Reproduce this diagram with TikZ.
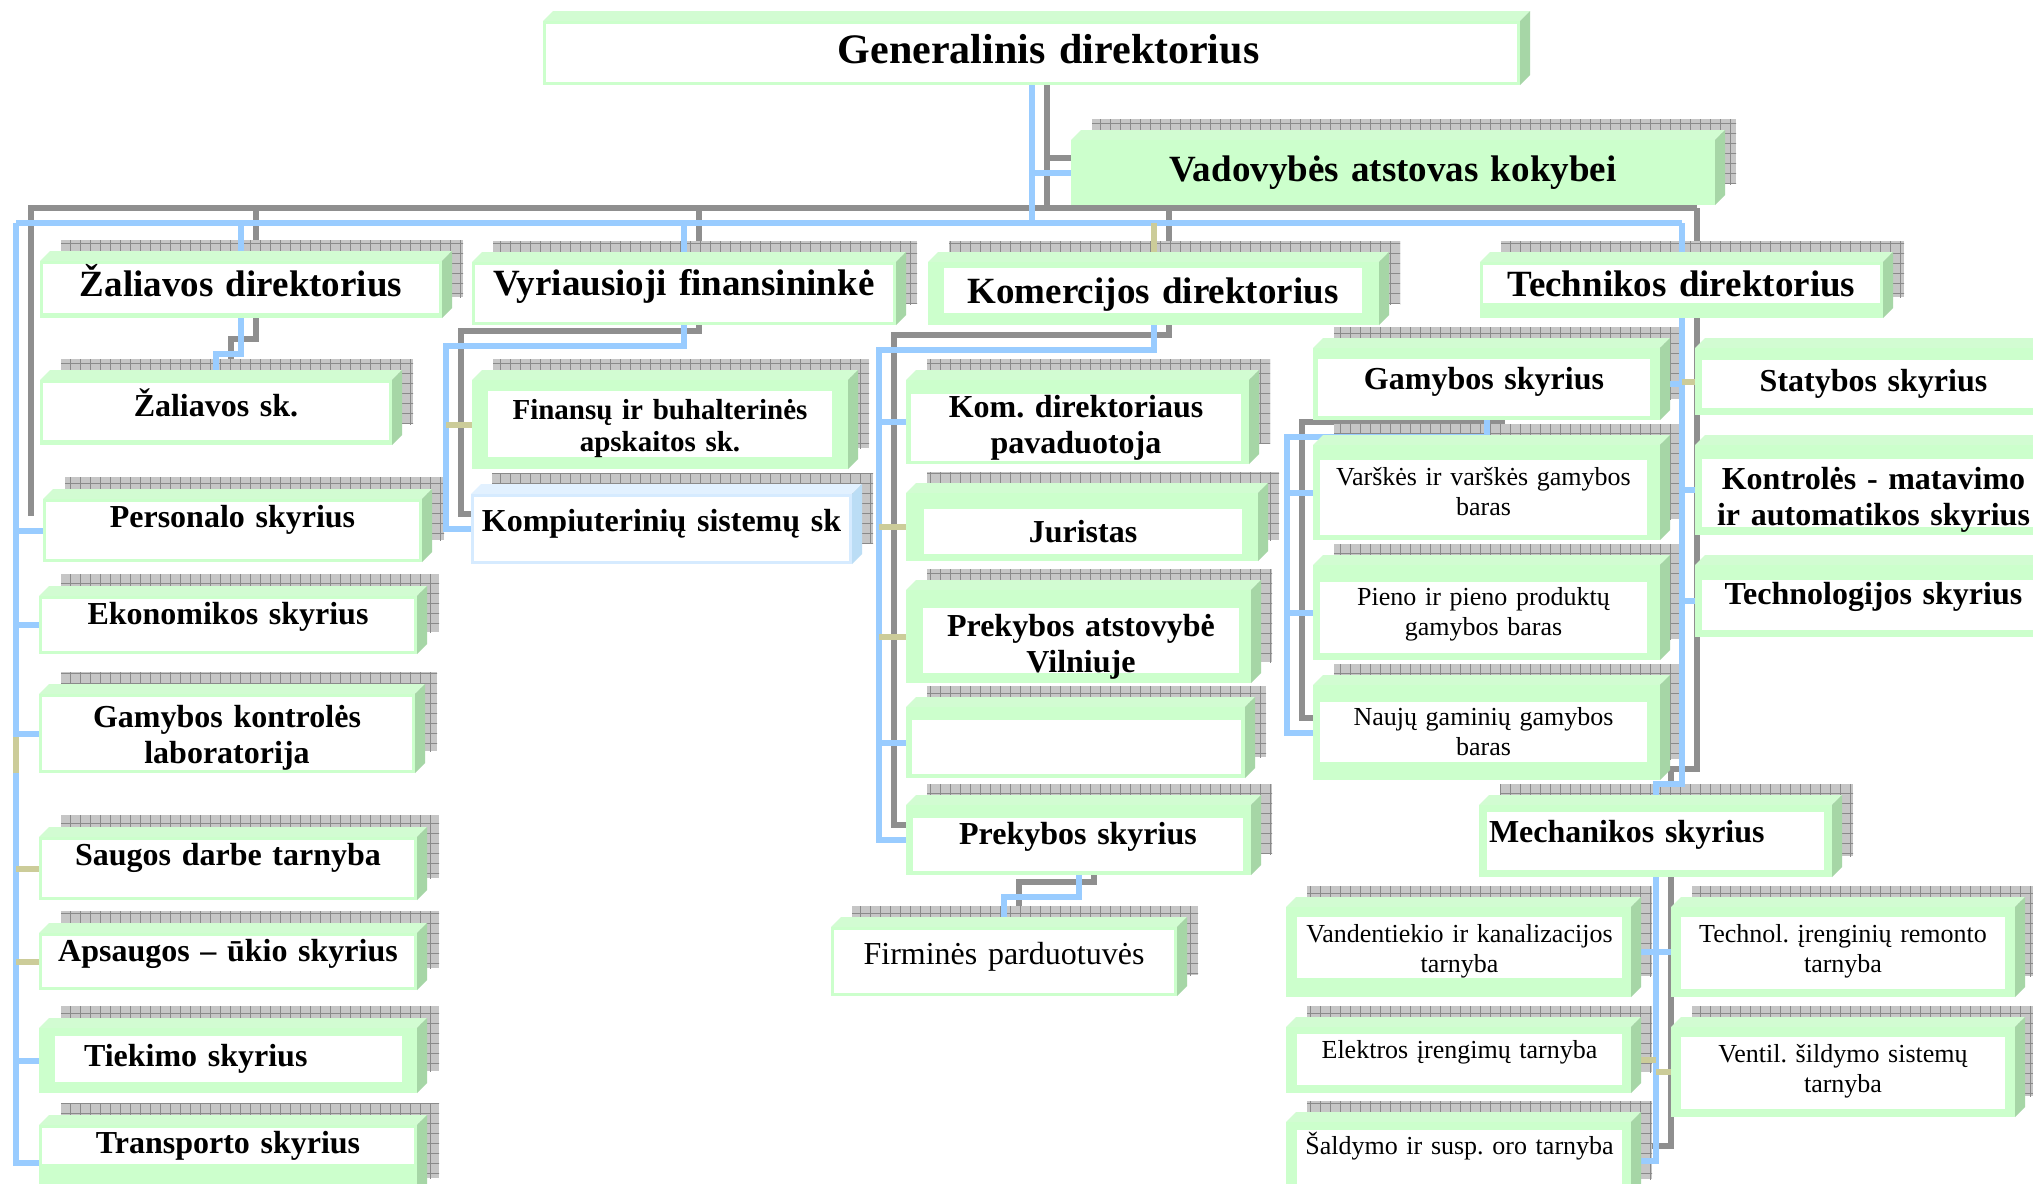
\documentclass[tikz,border=0pt]{standalone}
\usepackage{fontspec}
\setmainfont{Liberation Serif}
\frenchspacing
\usetikzlibrary{patterns.meta}
\definecolor{frameg}{HTML}{CCFFCC}
\definecolor{bvtopc}{HTML}{D2FCD2}
\definecolor{bvrightc}{HTML}{A6D6A6}
\definecolor{obinner}{HTML}{FFFFFF}
\definecolor{cblue}{HTML}{99CCFF}
\definecolor{colive}{HTML}{CCCC99}
\definecolor{cgray}{HTML}{8F8F8F}
\definecolor{shfill}{HTML}{C6C6C6}
\definecolor{shline}{HTML}{8A8A8A}
\pgfdeclarelayer{bgl}\pgfdeclarelayer{cshadow}\pgfdeclarelayer{bshadow}\pgfdeclarelayer{conn}
\pgfsetlayers{bgl,cshadow,bshadow,conn,main}
\newif\ifobshadow \obshadowtrue
\def\obparse#1/#2/#3/#4/#5\relax{\def\obl{#1}\def\obt{#2}\def\obr{#3}\def\obb{#4}\def\obdy{#5}}
\def\obshx{21}\def\obshy{21}\def\obd{10}\def\obalign{center}\def\obdx{0}
\newcommand\fA{\fontsize{42}{46}\selectfont\bfseries}
\newcommand\fB{\fontsize{37}{41}\selectfont\bfseries}
\newcommand\fC{\fontsize{32}{36}\selectfont\bfseries}
\newcommand\fD{\fontsize{29}{32}\selectfont\bfseries}
\newcommand\fR{\fontsize{26}{30}\selectfont}
\newcommand\fE{\fontsize{32}{36}\selectfont}
% #1 font, #2 name, #3 x1, #4 y1, #5 x2, #6 y2, #7 l/t/r/b/dy, #8 text
\newcommand\orgbox[8]{%
 \obparse#7\relax
 \pgfmathsetmacro\obw{#5-#3}\pgfmathsetmacro\obh{#6-#4}\pgfmathsetmacro\obtw{#5-#3-\obl-\obr-4}%
 \ifobshadow
 \begin{pgfonlayer}{bshadow}
  \fill[shfill] ({#3+\obshx},{#4-\obshy}) rectangle ({#5+\obshx},{#6-\obshy});
  \fill[pattern={Lines[angle=0,distance=10pt,line width=0.9pt]},pattern color=shline] ({#3+\obshx},{#4-\obshy}) rectangle ({#5+\obshx},{#6-\obshy});
  \fill[pattern={Lines[angle=90,distance=10pt,line width=0.9pt]},pattern color=shline] ({#3+\obshx},{#4-\obshy}) rectangle ({#5+\obshx},{#6-\obshy});
 \end{pgfonlayer}
 \fi
 \fill[bvtopc] (#3,#4) -- ({#3+\obd},{#4-\obd}) -- ({#5+\obd},{#4-\obd}) -- (#5,#4) -- cycle;
 \fill[bvrightc] (#5,#4) -- ({#5+\obd},{#4-\obd}) -- ({#5+\obd},{#6-\obd}) -- (#5,#6) -- cycle;
 \fill[frameg] (#3,#4) rectangle (#5,#6);
 \fill[obinner] ({#3+\obl},{#4+\obt}) rectangle ({#5-\obr},{#6-\obb});
 \node[inner sep=0pt,minimum width=\obw pt,minimum height=\obh pt] (#2) at ({(#3+#5)/2},{(#4+#6)/2}) {};
 \node[font=#1,inner sep=0pt,text width=\obtw pt,align=\obalign] at ({(#3+\obl+#5-\obr)/2+(\obdx)},{(#4+\obt+#6-\obb)/2+(\obdy)}) {#8};
}
\newcommand\conA[2][cblue]{\begin{pgfonlayer}{cshadow}\draw[sconn] #2;\end{pgfonlayer}\begin{pgfonlayer}{conn}\draw[conn,draw=#1] #2;\end{pgfonlayer}}
\newcommand\conB[2][cblue]{\begin{pgfonlayer}{conn}\draw[conn,draw=#1] #2;\end{pgfonlayer}}
\begin{document}
\begin{tikzpicture}[x=1pt,y=-1pt,
  conn/.style={line width=6pt,line join=miter},
  sconn/.style={line width=6pt,draw=cgray,transform canvas={xshift=15pt,yshift=15pt}}]
\useasboundingbox (0,0) rectangle (2033,1183);
\begin{pgfonlayer}{bgl}\fill[white] (0,0) rectangle (2033,1183);\end{pgfonlayer}
% ---------- top level
{\obshadowfalse\def\obdx{17}\orgbox{\fA}{gen}{543}{21}{1520}{85}{3/3/3/3/-4}{Generalinis direktorius}}
{\colorlet{obinner}{frameg}\orgbox{\fB}{vad}{1071}{140}{1715}{205}{3/3/3/3/0}{Vadovybės atstovas kokybei}}
\orgbox{\fB}{zd}{40}{261}{442}{318}{3/3/3/5/-8}{Žaliavos direktorius}
\orgbox{\fB}{vf}{472}{262}{896}{325}{3/3/3/3/-7}{Vyriausioji finansininkė}
\orgbox{\fB}{kd}{928}{262}{1379}{325}{16/6/17/12/4}{Komercijos direktorius}
\orgbox{\fB}{td}{1480}{262}{1883}{318}{3/3/3/15/0}{Technikos direktorius}
% ---------- left column
\orgbox{\fC}{zs}{40}{380}{392}{445}{3/3/3/5/-9}{Žaliavos sk.}
\def\obshx{22}\def\obshy{22}
\orgbox{\fC}{ps}{43}{499}{422}{562}{3/3/3/3/-11}{Personalo skyrius}
\orgbox{\fC}{ek}{39}{596}{417}{654}{3/3/3/3/-8}{Ekonomikos skyrius}
\orgbox{\fC}{gk}{39}{694}{415}{773}{3/3/3/3/4}{Gamybos kontrolės\\laboratorija}
\orgbox{\fC}{sd}{39}{837}{417}{900}{3/3/3/3/-11}{Saugos darbe tarnyba}
\orgbox{\fC}{ap}{39}{933}{417}{990}{3/3/3/3/-8}{Apsaugos – ūkio skyrius}
{\def\obalign{left}\orgbox{\fC}{ti}{39}{1028}{417}{1093}{16/8/15/11/0}{\hspace*{27pt}Tiekimo skyrius}}
\orgbox{\fC}{tr}{39}{1125}{417}{1200}{3/3/3/36/0}{Transporto skyrius}
\def\obshx{21}\def\obshy{21}
% ---------- finance
\orgbox{\fD}{fb}{472}{380}{848}{469}{16/11/16/12/5}{Finansų ir buhalterinės\\apskaitos sk.}
{\definecolor{frameg}{HTML}{D6EBFF}\definecolor{bvtopc}{HTML}{E2F1FF}\definecolor{bvrightc}{HTML}{BBDDF5}%
\orgbox{\fC}{ks}{471}{494}{852}{564}{3/3/3/3/-5}{Kompiuterinių sistemų sk}}
% ---------- commerce
\orgbox{\fC}{kp}{906}{380}{1249}{464}{5/14/8/3/0}{Kom. direktoriaus\\pavaduotoja}
\orgbox{\fC}{ju}{906}{493}{1258}{561}{18/16/16/7/0}{Juristas}
\orgbox{\fC}{pa}{906}{590}{1251}{683}{17/18/12/10/6}{Prekybos atstovybė\\Vilniuje}
\orgbox{\fC}{em}{906}{707}{1245}{778}{6/13/4/4/0}{}
\orgbox{\fC}{pk}{906}{805}{1251}{875}{7/13/8/4/-8}{Prekybos skyrius}
\orgbox{\fE}{fp}{831}{927}{1177}{996}{3/3/3/3/-5}{Firminės parduotuvės}
% ---------- technical
\orgbox{\fC}{gs}{1313}{348}{1660}{420}{5/11/10/4/-6}{Gamybos skyrius}
\orgbox{\fR}{va}{1313}{445}{1660}{540}{7/15/13/5/-6}{Varškės ir varškės gamybos\\baras}
\orgbox{\fR}{pi}{1313}{565}{1660}{660}{7/17/13/7/-3}{Pieno ir pieno produktų\\gamybos baras}
\orgbox{\fR}{nj}{1313}{685}{1660}{780}{7/17/13/18/0}{Naujų gaminių gamybos\\baras}
{\obshadowfalse
\orgbox{\fC}{st}{1695}{348}{2045}{415}{7/12/0/7/0}{Statybos skyrius}
\orgbox{\fC}{km}{1695}{445}{2045}{535}{7/14/0/8/7}{Kontrolės - matavimo\\ir automatikos skyrius}
\orgbox{\fC}{tg}{1695}{565}{2045}{637}{7/15/0/7/-8}{Technologijos skyrius}}
{\def\obalign{left}\orgbox{\fC}{mech}{1479}{805}{1832}{877}{8/7/8/7/-6}{Mechanikos skyrius}}
\orgbox{\fR}{vk}{1286}{907}{1631}{997}{11/10/9/19/4}{Vandentiekio ir kanalizacijos\\tarnyba}
\orgbox{\fR}{el}{1286}{1027}{1631}{1093}{11/7/9/8/-7}{Elektros įrengimų tarnyba}
\orgbox{\fR}{sa}{1286}{1122}{1631}{1200}{11/8/9/3/-17}{Šaldymo ir susp. oro tarnyba}
\orgbox{\fR}{tr2}{1671}{907}{2015}{997}{10/10/10/8/-2}{Technol. įrenginių remonto\\tarnyba}
\orgbox{\fR}{ve}{1671}{1027}{2015}{1117}{10/10/10/8/-2}{Ventil. šildymo sistemų\\tarnyba}
% ---------- connectors
\coordinate (busL) at (16,223);
\conA{(gen.south) -- (gen.south |- busL)}
\conA{(gen.south |- vad.west) -- (vad.west)}
\begin{pgfonlayer}{cshadow}\draw[sconn] (busL |- ps.west) -- (busL) -- (td.north |- busL);\end{pgfonlayer}
\conB{(busL) -- (td.north |- busL)}
\conB{(busL) |- (tr.west)}
\conA{(zd.north |- busL) -- (zd.north)}
\conA{(vf.north |- busL) -- (vf.north)}
\conA[colive]{(kd.north |- busL) -- (kd.north)}
\conA{(td.north |- busL) -- (td.north)}
\conB{(busL |- ps.west) -- (ps.west)}
\conB{(busL |- ek.west) -- (ek.west)}
\conB{(busL |- gk.west) -- (gk.west)}
\conB[colive]{(busL |- sd.west) -- (sd.west)}
\conB[colive]{(busL |- ap.west) -- (ap.west)}
\conB{(busL |- ti.west) -- (ti.west)}
\begin{pgfonlayer}{conn}\draw[conn,draw=colive] (busL |- gk.south) -- ++(0,-36);\end{pgfonlayer}
\conA{(zd.south) -- ++(0,36) -| (zs.north)}
\coordinate (vbus) at (446,346);
\conA{(vf.south) |- (vbus) |- (ks.west)}
\conB[colive]{(vbus |- fb.west) -- (fb.west)}
\coordinate (kbus) at (879,350);
\conA{(kd.south) |- (kbus) |- (pk.west)}
\conB{(kbus |- kp.west) -- (kp.west)}
\conB[colive]{(kbus |- ju.west) -- (ju.west)}
\conB[colive]{(kbus |- pa.west) -- (pa.west)}
\conB{(kbus |- em.west) -- (em.west)}
\conA{(pk.south) -- ++(0,22) -| (fp.north)}
\conA{(td.south) -- ++(0,466) -| (mech.north)}
\conB[colive]{(td.south |- st.west) -- (st.west)}
\conB{(td.south |- km.west) -- (km.west)}
\conB{(td.south |- tg.west) -- (tg.west)}
\conB{(td.south |- gs.east) -- (gs.east)}
\coordinate (gbus) at (1287,437);
\conA{(gs.south) |- (gbus) |- (nj.west)}
\conB{(gbus |- va.west) -- (va.west)}
\conB{(gbus |- pi.west) -- (pi.west)}
\conA{(mech.south) |- (sa.east)}
\conB{(mech.south |- vk.east) -- (vk.east)}
\conB[colive]{(mech.south |- el.east) -- (el.east)}
\conB{(mech.south |- tr2.west) -- (tr2.west)}
\conB[colive]{(mech.south |- ve.west) -- (ve.west)}
\end{tikzpicture}
\end{document}
